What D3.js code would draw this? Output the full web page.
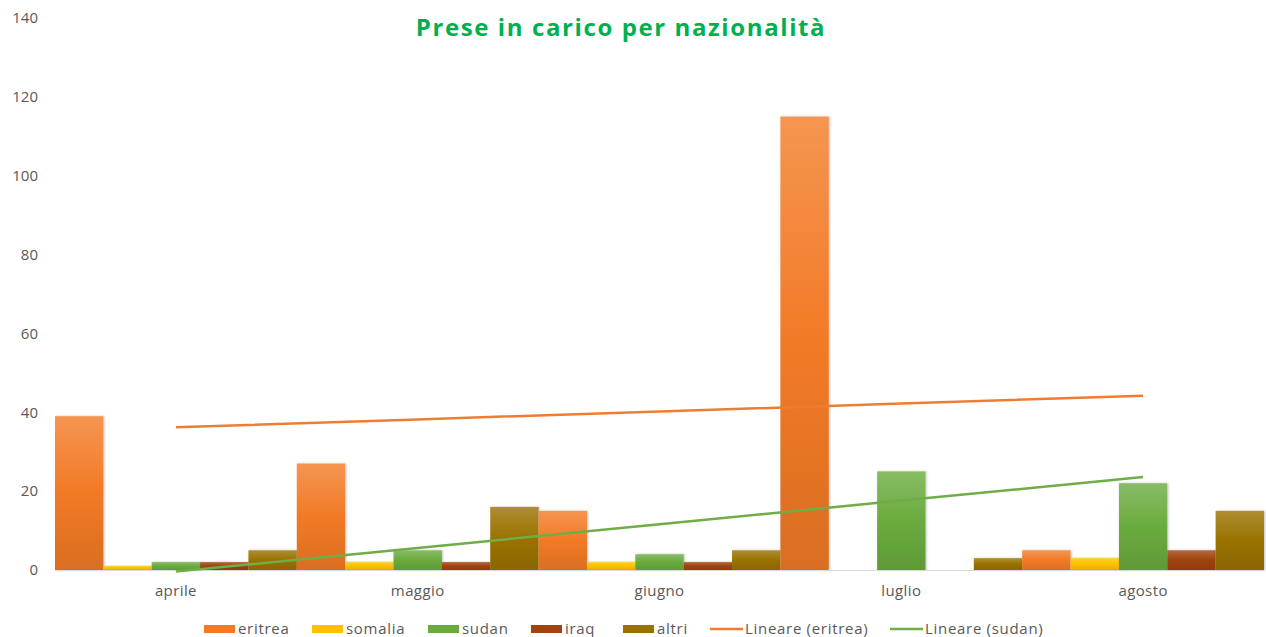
<!DOCTYPE html>
<html>
<head>
<meta charset="utf-8">
<script src="https://cdn.jsdelivr.net/npm/d3@7"></script>
<style>
  body { margin: 0; background: #fff; }
  svg { display: block; font-family: "Open Sans", sans-serif; }
</style>
</head>
<body>
<svg id="chart" width="1266" height="637"></svg>
<script>
var months = ["aprile", "maggio", "giugno", "luglio", "agosto"];
var nations = ["eritrea", "somalia", "sudan", "iraq", "altri"];
var eritrea = [39, 27, 15, 115, 5];
var somalia = [1, 2, 2, 0, 3];
var sudan = [2, 5, 4, 25, 22];
var iraq = [2, 2, 2, 0, 5];
var altri = [5, 16, 5, 3, 15];
var yTicks = [0, 20, 40, 60, 80, 100, 120, 140];
var colors = {
  eritrea: "#f27a26",
  somalia: "#ffc000",
  sudan: "#6aab3e",
  iraq: "#a0430c",
  altri: "#9a7200"
};
var trends = [
  { name: "Lineare (eritrea)", values: eritrea, color: "#ee7d33" },
  { name: "Lineare (sudan)", values: sudan, color: "#70ad47" }
];

var series = { eritrea: eritrea, somalia: somalia, sudan: sudan, iraq: iraq, altri: altri };

var svg = d3.select("#chart");
var defs = svg.append("defs");

// bar gradients, lighter at top, darker at bottom
nations.forEach(function(n) {
  var c = d3.color(colors[n]);
  var g = defs.append("linearGradient")
    .attr("id", "grad-" + n)
    .attr("x1", 0).attr("y1", 0).attr("x2", 0).attr("y2", 1);
  g.append("stop").attr("offset", "0%").attr("stop-color", d3.interpolateRgb(c, "#fff")(0.2));
  g.append("stop").attr("offset", "50%").attr("stop-color", c.formatHex());
  g.append("stop").attr("offset", "100%").attr("stop-color", c.darker(0.3).formatHex());
});

defs.append("filter")
  .attr("id", "barshadow")
  .attr("x", "-10%").attr("width", "130%")
  .append("feDropShadow")
  .attr("dx", 1).attr("dy", 0)
  .attr("stdDeviation", 0.8)
  .attr("flood-color", "#000")
  .attr("flood-opacity", 0.25);

var x = d3.scaleBand().domain(months).range([55, 1264]).padding(0);
var xi = d3.scaleBand().domain(nations).range([0, x.bandwidth()]).padding(0);
var y = d3.scaleLinear().domain([0, 140]).range([570, 18]);

// title
svg.append("text")
  .attr("x", 621).attr("y", 36)
  .attr("text-anchor", "middle")
  .attr("font-size", 24).attr("font-weight", "bold")
  .attr("letter-spacing", 1.6)
  .attr("fill", "#00b050")
  .text("Prese in carico per nazionalità");

// y axis labels
var yAxis = d3.axisLeft(y).tickValues(yTicks).tickSize(0).tickPadding(0);
var ya = svg.append("g").attr("transform", "translate(38,0)").call(yAxis);
ya.select(".domain").remove();
ya.selectAll("text").attr("font-size", 15).attr("fill", "#595959")
  .attr("font-family", "Open Sans, sans-serif");

// bars
var groups = svg.append("g").selectAll("g")
  .data(months)
  .join("g")
  .attr("transform", function(m) { return "translate(" + x(m) + ",0)"; });

groups.selectAll("rect")
  .data(function(m, i) {
    return nations.map(function(n) { return { n: n, v: series[n][i] }; });
  })
  .join("rect")
  .filter(function(d) { return d.v > 0; })
  .attr("x", function(d) { return xi(d.n); })
  .attr("y", function(d) { return y(d.v); })
  .attr("width", xi.bandwidth())
  .attr("height", function(d) { return y(0) - y(d.v); })
  .attr("fill", function(d) { return "url(#grad-" + d.n + ")"; })
  .attr("filter", "url(#barshadow)");

// x axis
var xAxis = d3.axisBottom(x).tickSize(0).tickPadding(15);
var xa = svg.append("g").attr("transform", "translate(0,570)").call(xAxis);
xa.select(".domain").attr("stroke", "#d9d9d9").attr("stroke-width", 1);
xa.selectAll("text").attr("font-size", 15).attr("fill", "#595959")
  .attr("letter-spacing", 0.4)
  .attr("font-family", "Open Sans, sans-serif");

// linear trendlines (least squares, like the spreadsheet)
trends.forEach(function(t) {
  var xs = t.values.map(function(v, i) { return i + 1; });
  var mx = d3.mean(xs), my = d3.mean(t.values);
  var num = d3.sum(xs, function(xv, i) { return (xv - mx) * (t.values[i] - my); });
  var den = d3.sum(xs, function(xv) { return (xv - mx) * (xv - mx); });
  var slope = num / den, icpt = my - slope * mx;
  var pts = months.map(function(m, i) {
    return [x(m) + x.bandwidth() / 2, y(icpt + slope * (i + 1))];
  });
  svg.append("path")
    .attr("d", d3.line()(pts))
    .attr("fill", "none")
    .attr("stroke", t.color)
    .attr("stroke-width", 2.5);
});

// legend
var legendItems = nations.map(function(n) {
  return { label: n, color: colors[n], type: "box" };
}).concat(trends.map(function(t) {
  return { label: t.name, color: t.color, type: "line" };
}));
var legendX = [204, 312, 428, 531, 623, 710, 890];

var lg = svg.append("g").selectAll("g")
  .data(legendItems)
  .join("g")
  .attr("transform", function(d, i) { return "translate(" + legendX[i] + ",629)"; });

lg.filter(function(d) { return d.type === "box"; })
  .append("rect")
  .attr("x", 0).attr("y", -4)
  .attr("width", 31).attr("height", 8)
  .attr("fill", function(d) { return d.color; });

lg.filter(function(d) { return d.type === "line"; })
  .append("line")
  .attr("x1", 0).attr("x2", 33)
  .attr("y1", 0).attr("y2", 0)
  .attr("stroke", function(d) { return d.color; })
  .attr("stroke-width", 2.5);

lg.append("text")
  .attr("x", function(d) { return d.type === "box" ? 34 : 35; })
  .attr("y", 5)
  .attr("font-size", 15)
  .attr("letter-spacing", 0.7)
  .attr("fill", "#595959")
  .text(function(d) { return d.label; });
</script>
</body>
</html>
